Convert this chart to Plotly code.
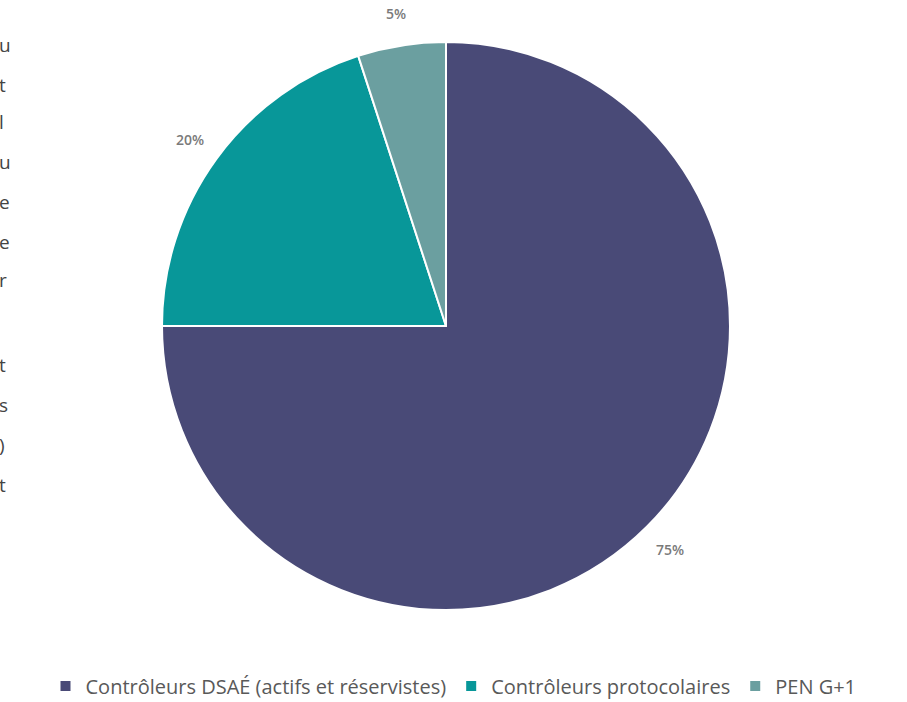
import math
import plotly.graph_objects as go

categories = ["Contrôleurs DSAÉ (actifs et réservistes)", "Contrôleurs protocolaires", "PEN G+1"]
values = [75, 20, 5]
colors = ["#494A77", "#089799", "#6B9FA0"]
label_texts = ["75%", "20%", "5%"]

# clipped characters from the neighbouring page text on the left edge
side_chars = ["u", "t", "l", "u", "e", "e", "r", "t", "s", ")", "t"]
side_y_px = [45, 85, 122, 162, 202, 242, 280, 365, 405, 445, 485]

W, H = 907, 702
ML, MR, MT, MB = 0, 15, 42, 92
PW, PH = W - ML - MR, H - MT - MB
R = min(PW, PH) / 2

fig = go.Figure(go.Pie(
    labels=categories,
    values=values,
    sort=False,
    direction="clockwise",
    rotation=0,
    marker=dict(colors=colors, line=dict(color="white", width=2)),
    textinfo="none",
    hoverinfo="label+percent",
))

annotations = []
total = sum(values)
cum = 0
for v, t in zip(values, label_texts):
    mid = (cum + v / 2) / total * 2 * math.pi
    cum += v
    d = R * 1.115
    x = 0.5 + d * math.sin(mid) / PW
    y = 0.5 + d * math.cos(mid) / PH
    annotations.append(dict(x=x, y=y, xref="paper", yref="paper", text=t, showarrow=False,
                            xanchor="center", yanchor="middle",
                            font=dict(family="Open Sans", size=14, color="#7a7a7a", weight=600)))

for ch, yp in zip(side_chars, side_y_px):
    annotations.append(dict(x=(-3 - ML) / PW, y=(H - MB - yp) / PH, xref="paper", yref="paper",
                            xanchor="left", yanchor="middle", text=ch, showarrow=False,
                            font=dict(family="Open Sans", size=19, color="#444444")))

fig.update_layout(
    width=W, height=H,
    margin=dict(l=ML, r=MR, t=MT, b=MB),
    paper_bgcolor="white",
    plot_bgcolor="white",
    showlegend=True,
    legend=dict(orientation="h", x=0.5, xanchor="center", xref="container",
                y=(H - 686) / H, yanchor="middle", yref="container",
                font=dict(family="Open Sans", size=20, color="#595959"),
                itemwidth=30, traceorder="normal"),
    annotations=annotations,
)

fig.write_html("out.html", config={"displayModeBar": False},
               post_script="document.body.style.margin='0';")
